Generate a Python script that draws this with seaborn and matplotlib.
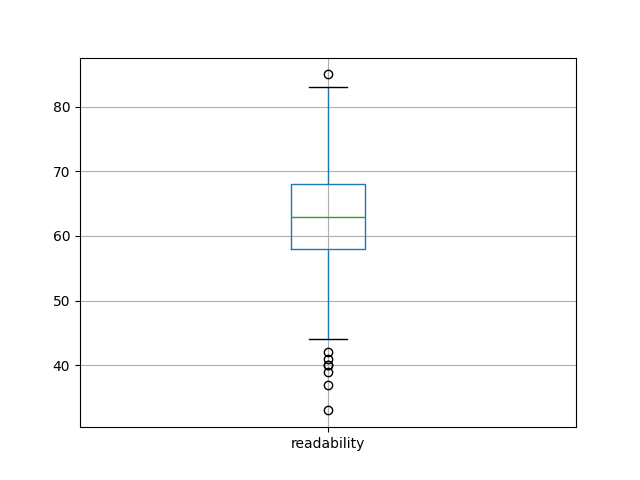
import pandas as pd
import seaborn as sns
import matplotlib
matplotlib.use("Agg")
import matplotlib.pyplot as plt

# readability scores (sorted)
readability = [33, 37, 39, 40, 40, 41, 42, 44, 50, 55,
               58, 58, 59, 59, 60, 60, 61, 61, 62, 62,
               63, 63, 64, 64, 65, 65, 66, 66, 67, 67,
               68, 69, 70, 71, 72, 74, 76, 78, 80, 83, 85]

df = pd.DataFrame({"readability": readability})

fig, ax = plt.subplots(figsize=(6.4, 4.8), dpi=100)
sns.boxplot(
    data=df, ax=ax, width=0.15, fill=False, color="C0", linewidth=1,
    whis=1.5,
    boxprops=dict(color="C0", linewidth=1),
    whiskerprops=dict(color="C0", linewidth=1),
    capprops=dict(color="black", linewidth=1),
    medianprops=dict(color="C2", linewidth=1),
    flierprops=dict(marker="o", markersize=6, markerfacecolor="none",
                    markeredgecolor="black", markeredgewidth=1),
)
ax.grid(True)
ax.set_axisbelow(True)
ax.set_ylabel("")
ax.set_xlabel("")
fig.savefig("out.png", dpi=100)
